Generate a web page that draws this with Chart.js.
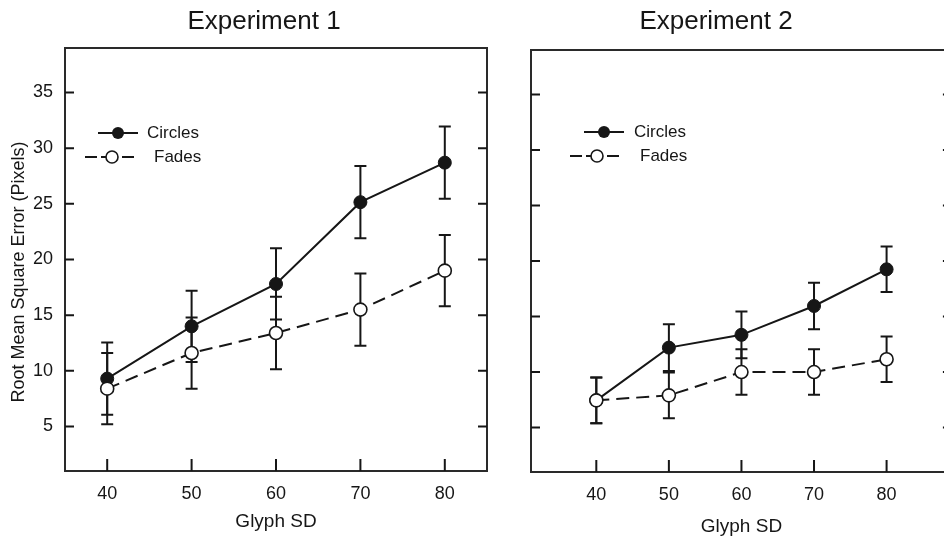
<!DOCTYPE html>
<html><head><meta charset="utf-8">
<script src="https://cdn.jsdelivr.net/npm/chart.js@4"></script>
<style>
html,body{margin:0;padding:0;background:#fff;overflow:hidden;width:944px;height:542px;}
#c1{position:absolute;left:0;top:0;}
#c2{position:absolute;left:470px;top:0;}
</style></head><body>
<canvas id="c1" width="500" height="542"></canvas>
<canvas id="c2" width="490" height="542"></canvas>
<script>
// ---- data ----
const glyphSD = [40, 50, 60, 70, 80];
const xTicks = [40, 50, 60, 70, 80];
const yTicks = [5, 10, 15, 20, 25, 30, 35];
const seriesNames = ['Circles', 'Fades'];
const panelTitles = ['Experiment 1', 'Experiment 2'];
const yTitle = 'Root Mean Square Error (Pixels)';
const xTitle = 'Glyph SD';

const exp1Circles    = [9.3, 14.0, 17.8, 25.15, 28.7];
const exp1CirclesErr = [3.25, 3.2, 3.2, 3.25, 3.25];
const exp1Fades      = [8.4, 11.6, 13.4, 15.5, 19.0];
const exp1FadesErr   = [3.2, 3.2, 3.25, 3.25, 3.2];

const exp2Circles    = [7.45, 12.2, 13.35, 15.95, 19.25];
const exp2CirclesErr = [2.05, 2.1, 2.1, 2.1, 2.05];
const exp2Fades      = [7.45, 7.9, 10.0, 10.0, 11.15];
const exp2FadesErr   = [2.05, 2.05, 2.05, 2.05, 2.05];

// ---- style ----
const FONT = "'Liberation Sans', Arial, Helvetica, sans-serif";
const INK = '#161616';

const decor = {
  id: 'decor',
  beforeDatasetsDraw(chart, args, o) {
    const ctx = chart.ctx, xs = chart.scales.x, ys = chart.scales.y, a = chart.chartArea;
    ctx.save();
    // box
    ctx.strokeStyle = '#2a2a2a'; ctx.lineWidth = 2;
    ctx.strokeRect(a.left, a.top, a.right - a.left, a.bottom - a.top);
    // inward ticks
    ctx.lineWidth = 2; ctx.strokeStyle = INK;
    ctx.beginPath();
    ys.ticks.forEach(t => {
      const y = ys.getPixelForValue(t.value);
      ctx.moveTo(a.left, y); ctx.lineTo(a.left + 9, y);
      ctx.moveTo(a.right, y); ctx.lineTo(a.right - 9, y);
    });
    xs.ticks.forEach(t => {
      const x = xs.getPixelForValue(t.value);
      ctx.moveTo(x, a.bottom); ctx.lineTo(x, a.bottom - 12);
    });
    ctx.stroke();
    // error bars
    ctx.lineWidth = 2;
    chart.data.datasets.forEach(ds => {
      ds.data.forEach((p, i) => {
        const e = ds.errors[i];
        const x = xs.getPixelForValue(p.x);
        const y1 = ys.getPixelForValue(p.y + e), y2 = ys.getPixelForValue(p.y - e);
        ctx.beginPath();
        ctx.moveTo(x, y1); ctx.lineTo(x, y2);
        ctx.moveTo(x - 6, y1); ctx.lineTo(x + 6, y1);
        ctx.moveTo(x - 6, y2); ctx.lineTo(x + 6, y2);
        ctx.stroke();
      });
    });
    ctx.restore();
  },
  afterDraw(chart, args, o) {
    const ctx = chart.ctx;
    ctx.save();
    ctx.fillStyle = INK; ctx.strokeStyle = INK;
    // panel title
    ctx.font = `26px ${FONT}`;
    ctx.textAlign = 'center'; ctx.textBaseline = 'middle';
    ctx.fillText(o.title, o.titleX, o.titleY);
    // y title
    if (o.yTitle) {
      ctx.save();
      ctx.translate(o.yTitleX, o.yTitleY);
      ctx.rotate(-Math.PI / 2);
      ctx.font = `18px ${FONT}`;
      ctx.fillText(o.yTitle, 0, 0);
      ctx.restore();
    }
    // legend
    ctx.font = `17px ${FONT}`;
    ctx.textAlign = 'left';
    const L = o.legend;
    // circles
    ctx.lineWidth = 2;
    ctx.beginPath(); ctx.moveTo(L.cx - 20, L.cy); ctx.lineTo(L.cx + 20, L.cy); ctx.stroke();
    ctx.beginPath(); ctx.arc(L.cx, L.cy, 6, 0, Math.PI * 2); ctx.fill();
    ctx.fillText(seriesNames[0], L.ctx, L.cy);
    // fades
    ctx.beginPath();
    ctx.moveTo(L.fx - 27, L.fy); ctx.lineTo(L.fx - 15, L.fy);
    ctx.moveTo(L.fx - 11, L.fy); ctx.lineTo(L.fx - 6, L.fy);
    ctx.moveTo(L.fx + 10, L.fy); ctx.lineTo(L.fx + 22, L.fy);
    ctx.stroke();
    ctx.beginPath(); ctx.arc(L.fx, L.fy, 6, 0, Math.PI * 2);
    ctx.fillStyle = '#fff'; ctx.fill(); ctx.lineWidth = 1.6; ctx.stroke();
    ctx.fillStyle = INK;
    ctx.fillText(seriesNames[1], L.ftx, L.fy);
    ctx.restore();
  }
};

function makeChart(id, circles, circlesErr, fades, fadesErr, cfg) {
  return new Chart(document.getElementById(id), {
    type: 'line',
    data: {
      datasets: [
        { label: seriesNames[0], data: glyphSD.map((x, i) => ({ x, y: circles[i] })), errors: circlesErr,
          borderColor: INK, borderWidth: 2, pointRadius: 6.5, pointHoverRadius: 6.5,
          pointBackgroundColor: INK, pointBorderColor: INK, pointBorderWidth: 1, tension: 0, fill: false, order: 1 },
        { label: seriesNames[1], data: glyphSD.map((x, i) => ({ x, y: fades[i] })), errors: fadesErr,
          borderColor: INK, borderWidth: 2, borderDash: [13, 7], pointRadius: 6.5, pointHoverRadius: 6.5,
          pointBackgroundColor: '#fff', pointBorderColor: INK, pointBorderWidth: 1.6, tension: 0, fill: false, order: 0 }
      ]
    },
    options: {
      responsive: false, animation: false,
      layout: { padding: { top: cfg.top, right: cfg.right, left: 0, bottom: 0 } },
      plugins: { legend: { display: false }, tooltip: { enabled: false }, title: { display: false }, decor: cfg.decor },
      scales: {
        x: {
          type: 'linear', min: cfg.xmin, max: cfg.xmax,
          afterBuildTicks: s => { s.ticks = xTicks.map(v => ({ value: v })); },
          afterFit: s => { s.height = cfg.xh; },
          grid: { display: false, drawTicks: false }, border: { display: false },
          ticks: { color: INK, font: { family: FONT, size: 18 }, padding: 12, maxRotation: 0 },
          title: { display: true, text: xTitle, color: INK, font: { family: FONT, size: 19 }, padding: { top: 0, bottom: cfg.xtpad } }
        },
        y: {
          type: 'linear', min: 1, max: 39,
          afterBuildTicks: s => { s.ticks = yTicks.map(v => ({ value: v })); },
          afterFit: s => { s.width = cfg.yw; },
          grid: { display: false, drawTicks: false }, border: { display: false },
          ticks: { display: cfg.ylabels, color: INK, font: { family: FONT, size: 18 }, padding: 12 }
        }
      }
    },
    plugins: [decor]
  });
}

makeChart('c1', exp1Circles, exp1CirclesErr, exp1Fades, exp1FadesErr, {
  top: 48, right: 13, xh: 71, yw: 65, xmin: 35, xmax: 85, ylabels: true, xtpad: 9,
  decor: { title: panelTitles[0], titleX: 264, titleY: 22, yTitle: yTitle, yTitleX: 19, yTitleY: 272,
           legend: { cx: 118, cy: 133, ctx: 147, fx: 112, fy: 157, ftx: 154 } }
});
makeChart('c2', exp2Circles, exp2CirclesErr, exp2Fades, exp2FadesErr, {
  top: 50, right: 7, xh: 70, yw: 61, xmin: 31, xmax: 89, ylabels: false, xtpad: 4,
  decor: { title: panelTitles[1], titleX: 246, titleY: 22, yTitle: null,
           legend: { cx: 134, cy: 132, ctx: 164, fx: 127, fy: 156, ftx: 170 } }
});
</script>
</body></html>
